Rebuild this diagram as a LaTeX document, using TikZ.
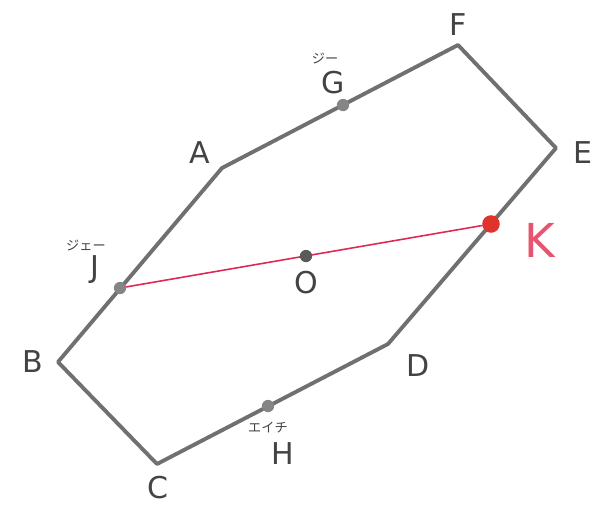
\documentclass[tikz,border=0pt]{standalone}
\usepackage{fontspec}
\setmainfont{DejaVu Sans}[Scale=0.95]
\newfontfamily\cjk{Noto Sans CJK JP}
\definecolor{edgegray}{RGB}{112,112,112}
\definecolor{chordred}{RGB}{222,40,86}
\definecolor{kdot}{RGB}{222,52,44}
\definecolor{klabel}{RGB}{232,84,112}
\begin{document}
\begin{tikzpicture}[x=0.02cm, y=-0.02cm, line join=round, line cap=round,
    pt/.style={circle, fill=edgegray!85, inner sep=0pt, minimum size=7pt},
    lbl/.style={font=\fontsize{18}{18}\selectfont\color{edgegray!60!black}},
    kana/.style={font=\cjk\fontsize{7.5}{7.5}\selectfont\color{edgegray!60!black}}]
    \useasboundingbox (0,0) rectangle (608,504);
    \coordinate (A) at (222,168);
    \coordinate (F) at (458,45);
    \coordinate (E) at (556,148);
    \coordinate (D) at (388,344);
    \coordinate (C) at (157,464);
    \coordinate (B) at (58,362);
    \draw[edgegray, line width=2.2pt] (A) -- (F) -- (E) -- (D) -- (C) -- (B) -- cycle;
    \node[pt] (G) at (343,105) {};
    \node[pt] (J) at (120,288) {};
    \node[pt] (H) at (268,406) {};
    \node[circle, fill=kdot, inner sep=0pt, minimum size=10pt] (K) at (491,224) {};
    \draw[chordred, line width=0.9pt] (J) -- (K);
    \node[pt, fill=edgegray!80!black] (O) at (306,256) {};
    \node[lbl] (labA) at (200,153) {A};
    \node[lbl] (labF) at (458,25) {F};
    \node[lbl] (labE) at (583,153) {E};
    \node[lbl] (labD) at (418,366) {D};
    \node[lbl] (labC) at (158,488) {C};
    \node[lbl] (labB) at (33,362) {B};
    \node[lbl] (labG) at (333,83) {G};
    \node[kana] (kanaG) at (325,58) {ジー};
    \node[lbl] (labJ) at (95,270) {J};
    \node[kana] (kanaJ) at (86,245) {ジェー};
    \node[lbl] (labH) at (283,454) {H};
    \node[kana] (kanaH) at (268,428) {エイチ};
    \node[lbl] (labO) at (306,283) {O};
    \node[font=\fontsize{28}{28}\selectfont\color{klabel}] (labK) at (540,240) {K};
\end{tikzpicture}
\end{document}
